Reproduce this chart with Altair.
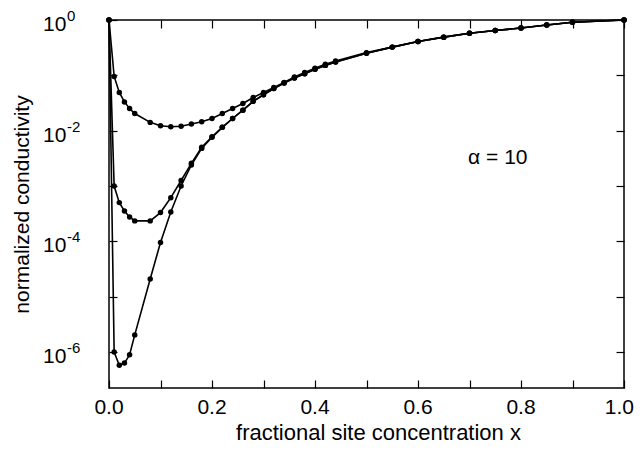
import altair as alt
import pandas as pd

# x positions (fractional site concentration) shared by the three curves
x_vals = [0, 0.01, 0.02, 0.03, 0.04, 0.05, 0.08, 0.10, 0.12, 0.14, 0.16, 0.18, 0.20,
          0.22, 0.24, 0.26, 0.28, 0.30, 0.32, 0.34, 0.36, 0.38, 0.40, 0.42, 0.44, 0.50,
          0.55, 0.60, 0.65, 0.70, 0.75, 0.80, 0.85, 0.90, 1.0]

# log10 of normalized conductivity
log_top = [0, -1.02, -1.31, -1.48, -1.60, -1.69, -1.85, -1.91, -1.93, -1.92, -1.88, -1.84, -1.78,
           -1.69, -1.60, -1.51, -1.40, -1.31, -1.22, -1.13, -1.03, -0.95, -0.87, -0.80, -0.74, -0.59,
           -0.49, -0.39, -0.31, -0.24, -0.19, -0.145, -0.09, -0.04, 0]
log_mid = [0, -3.0, -3.30, -3.45, -3.56, -3.63, -3.63, -3.48, -3.21, -2.90, -2.59, -2.30, -2.11,
           -1.94, -1.78, -1.63, -1.47, -1.35, -1.24, -1.14, -1.05, -0.97, -0.89, -0.82, -0.76, -0.60,
           -0.49, -0.39, -0.31, -0.24, -0.19, -0.145, -0.09, -0.04, 0]
log_low = [0, -6.0, -6.24, -6.20, -6.05, -5.69, -4.68, -4.02, -3.47, -3.00, -2.62, -2.32, -2.12,
           -1.94, -1.78, -1.63, -1.47, -1.35, -1.24, -1.14, -1.05, -0.97, -0.89, -0.82, -0.76, -0.60,
           -0.49, -0.39, -0.31, -0.24, -0.19, -0.145, -0.09, -0.04, 0]

series_names = ["a", "b", "c"]
x_ticks = [0, 0.1, 0.2, 0.3, 0.4, 0.5, 0.6, 0.7, 0.8, 0.9, 1.0]
x_label_vals = [0.0, 0.2, 0.4, 0.6, 0.8, 1.0]
x_label_text = ["0.0", "0.2", "0.4", "0.6", "0.8", "1.0"]
y_ticks = [1, 1e-1, 1e-2, 1e-3, 1e-4, 1e-5, 1e-6]
y_label_vals = [1, 1e-2, 1e-4, 1e-6]
y_label_base = ["10", "10", "10", "10"]
y_label_exp = ["0", "-2", "-4", "-6"]
annot_text = ["\u03b1 = 10"]
annot_x = [0.755]
annot_y = [10 ** -2.5]

rows = []
for name, logs in zip(series_names, [log_top, log_mid, log_low]):
    for xv, lv in zip(x_vals, logs):
        rows.append({"x": xv, "y": 10 ** lv, "series": name})
df = pd.DataFrame(rows)
annot = pd.DataFrame({"x": annot_x, "y": annot_y, "t": annot_text})
ylab = pd.DataFrame({"y": y_label_vals, "base": y_label_base, "exp": y_label_exp})
xlab = pd.DataFrame({"x": x_label_vals, "t": x_label_text})

FONT = "Liberation Sans"
TICK = 8
xs = alt.Scale(domain=[0, 1], nice=False, zero=False)
ys = alt.Scale(type="log", domain=[10 ** -6.65, 1], nice=False)

lines = alt.Chart(df).mark_line(color="black", strokeWidth=1.6).encode(
    x=alt.X("x:Q", scale=xs, axis=alt.Axis(
        orient="bottom", offset=-TICK, values=x_ticks, labels=False, domain=False,
        tickSize=TICK, tickColor="black", tickWidth=1.2, grid=False,
        title="fractional site concentration x", titleFont=FONT, titleFontSize=22,
        titleFontWeight="normal", titleColor="black", titleX=269, titleY=52,
        titleBaseline="middle")),
    y=alt.Y("y:Q", scale=ys, axis=alt.Axis(
        orient="left", offset=-TICK, values=y_ticks, labels=False, domain=False,
        tickSize=TICK, tickColor="black", tickWidth=1.2, grid=False,
        title="normalized conductivity", titleFont=FONT, titleFontSize=21,
        titleFontWeight="normal", titleColor="black", titleX=-95, titleY=184,
        titleBaseline="middle")),
    detail="series:N",
)

points = alt.Chart(df).mark_circle(color="black", size=30, opacity=1).encode(
    x=alt.X("x:Q", scale=xs, axis=alt.Axis(
        orient="top", offset=-TICK, values=x_ticks, labels=False, domain=False, title=None,
        tickSize=TICK, tickColor="black", tickWidth=1.2, grid=False)),
    y=alt.Y("y:Q", scale=ys, axis=alt.Axis(
        orient="right", offset=-TICK, values=y_ticks, labels=False, domain=False, title=None,
        tickSize=TICK, tickColor="black", tickWidth=1.2, grid=False)),
)

# x tick labels; the last one is right-aligned so it stays inside the page
xlab_mid = alt.Chart(xlab).transform_filter("datum.x < 1").mark_text(
    font=FONT, fontSize=21, color="black", baseline="middle", align="center").encode(
    x=alt.X("x:Q", scale=xs, axis=None),
    y=alt.value(388),
    text="t:N",
)
xlab_end = alt.Chart(xlab).transform_filter("datum.x >= 1").mark_text(
    font=FONT, fontSize=21, color="black", baseline="middle", align="right", dx=10).encode(
    x=alt.X("x:Q", scale=xs, axis=None),
    y=alt.value(388),
    text="t:N",
)

ylab_base = alt.Chart(ylab).mark_text(font=FONT, fontSize=21, color="black", align="left",
                                      baseline="middle", dy=5).encode(
    x=alt.value(-66),
    y=alt.Y("y:Q", scale=ys, axis=None),
    text="base:N",
)
ylab_exp = alt.Chart(ylab).mark_text(font=FONT, fontSize=15, color="black", align="left",
                                     baseline="middle", dy=-4).encode(
    x=alt.value(-42),
    y=alt.Y("y:Q", scale=ys, axis=None),
    text="exp:N",
)

text = alt.Chart(annot).mark_text(font=FONT, fontSize=21, color="black", align="center",
                                  baseline="middle").encode(
    x=alt.X("x:Q", scale=xs, axis=None),
    y=alt.Y("y:Q", scale=ys, axis=None),
    text="t:N",
)

chart = alt.layer(lines, points, xlab_mid, xlab_end, ylab_base, ylab_exp, text).resolve_axis(
    x="independent", y="independent"
).properties(
    width=515, height=368, autosize="none",
    padding={"left": 101, "top": 12, "right": 10, "bottom": 58},
).configure_view(stroke="black", strokeWidth=1.5)

chart.save("out.html", embed_options={"renderer": "svg", "actions": False})
